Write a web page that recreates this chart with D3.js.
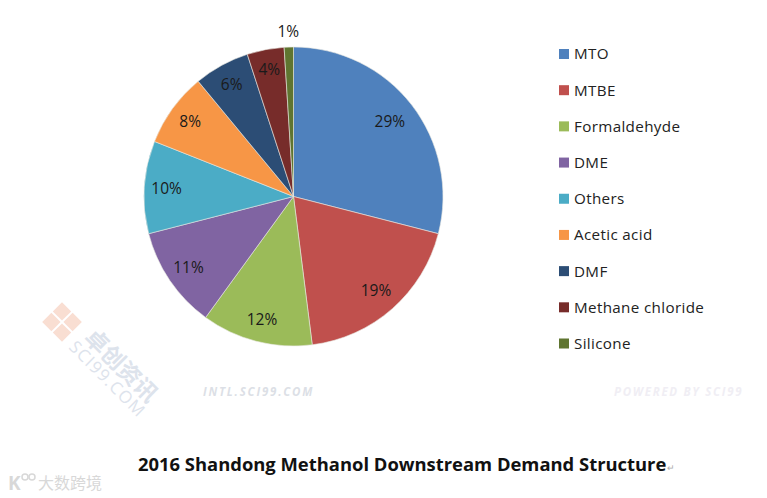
<!DOCTYPE html>
<html>
<head>
<meta charset="utf-8">
<script src="https://cdn.jsdelivr.net/npm/d3@7"></script>
<style>
  body { margin: 0; background: #fff; }
  text { font-family: "Open Sans", sans-serif; }
</style>
</head>
<body>
<svg id="chart" width="767" height="498"></svg>
<script>
const categories = ["MTO", "MTBE", "Formaldehyde", "DME", "Others", "Acetic acid", "DMF", "Methane chloride", "Silicone"]
const shares = [29, 19, 12, 11, 10, 8, 6, 4, 1]
const colors = ["#4f81bd", "#c0504d", "#9bbb59", "#8064a2", "#4bacc6", "#f79646", "#2c4d75", "#772c2a", "#5f7530"]

const svg = d3.select("#chart")
const color = d3.scaleOrdinal().domain(categories).range(colors)

// pie
const cx = 293.5, cy = 196.5, radius = 149.5
const pie = d3.pie().sort(null).value(d => d.value)
const slices = pie(categories.map((name, i) => ({name: name, value: shares[i]})))
const arc = d3.arc().innerRadius(0).outerRadius(radius)

// excel pushes labels of thin slices a bit further out
const labelPos = d => {
  const r = d.data.value < 2 ? 165 : 130 - d.data.value * 0.28
  return d3.arc().innerRadius(r).outerRadius(r).centroid(d)
}

const pieG = svg.append("g").attr("transform", `translate(${cx},${cy})`)

pieG.selectAll("path")
  .data(slices)
  .join("path")
  .attr("d", arc)
  .attr("fill", d => color(d.data.name))
  .attr("stroke", "#e8e8e0")
  .attr("stroke-width", 0.6)

pieG.selectAll("text")
  .data(slices)
  .join("text")
  .attr("transform", d => `translate(${labelPos(d)})`)
  .attr("text-anchor", "middle")
  .attr("dy", "0.36em")
  .attr("font-size", 15.5)
  .attr("fill", "#1a1a1a")
  .text(d => d.data.value + "%")

// legend
const legendY = d3.scalePoint().domain(categories).range([54, 343.5])
const legend = svg.append("g")
  .selectAll("g")
  .data(categories)
  .join("g")
  .attr("transform", d => `translate(559,${legendY(d)})`)

legend.append("rect")
  .attr("y", -5)
  .attr("width", 10)
  .attr("height", 10)
  .attr("fill", d => color(d))

legend.append("text")
  .attr("x", 15)
  .attr("dy", "0.36em")
  .attr("font-size", 15.2)
  .attr("letter-spacing", 0.35)
  .attr("fill", "#222")
  .text(d => d)

// title
svg.append("text")
  .attr("x", 138)
  .attr("y", 471)
  .attr("font-size", 18.4)
  .attr("font-weight", 700)
  .attr("fill", "#111")
  .text("2016 Shandong Methanol Downstream Demand Structure")

svg.append("text")
  .attr("x", 667)
  .attr("y", 471)
  .attr("font-size", 9)
  .attr("fill", "#aaa")
  .text("↵")

// watermarks
const mark = svg.append("g")
  .attr("transform", "translate(62,322) rotate(45)")
  .attr("fill", "#f8d6c8")
  .attr("opacity", 0.8)
mark.append("rect").attr("x", -14).attr("y", -14).attr("width", 13).attr("height", 13)
mark.append("rect").attr("x", 1).attr("y", -14).attr("width", 13).attr("height", 13)
mark.append("rect").attr("x", -14).attr("y", 1).attr("width", 13).attr("height", 13)
mark.append("rect").attr("x", 1).attr("y", 1).attr("width", 13).attr("height", 13)

svg.append("text")
  .attr("transform", "translate(83,339) rotate(45)")
  .attr("font-size", 23)
  .attr("font-weight", 700)
  .attr("fill", "#dde3ec")
  .attr("style", "font-family:'Noto Sans CJK SC'")
  .text("卓创资讯")

svg.append("text")
  .attr("transform", "translate(68,348) rotate(45)")
  .attr("font-size", 17)
  .attr("letter-spacing", 1.3)
  .attr("fill", "#dde3ec")
  .text("SCI99.COM")

svg.append("text")
  .attr("x", 203)
  .attr("y", 396)
  .attr("font-size", 11.5)
  .attr("font-weight", 700)
  .attr("font-style", "italic")
  .attr("letter-spacing", 1.8)
  .attr("fill", "#dcdfe6")
  .text("INTL.SCI99.COM")

svg.append("text")
  .attr("x", 614)
  .attr("y", 396)
  .attr("font-size", 11.5)
  .attr("font-weight", 700)
  .attr("font-style", "italic")
  .attr("letter-spacing", 1.7)
  .attr("fill", "#f0eef4")
  .text("POWERED BY SCI99")

// small logo, bottom left
svg.append("text")
  .attr("x", 8)
  .attr("y", 490)
  .attr("font-size", 19)
  .attr("font-weight", 700)
  .attr("fill", "#d8d8d8")
  .text("K")

svg.append("circle").attr("cx", 25).attr("cy", 477).attr("r", 3)
  .attr("fill", "none").attr("stroke", "#d8d8d8").attr("stroke-width", 1.5)
svg.append("circle").attr("cx", 32).attr("cy", 477).attr("r", 3)
  .attr("fill", "none").attr("stroke", "#d8d8d8").attr("stroke-width", 1.5)

svg.append("text")
  .attr("x", 38)
  .attr("y", 489)
  .attr("font-size", 16)
  .attr("fill", "#d8d8d8")
  .attr("style", "font-family:'Noto Sans CJK SC'")
  .text("大数跨境")
</script>
</body>
</html>
